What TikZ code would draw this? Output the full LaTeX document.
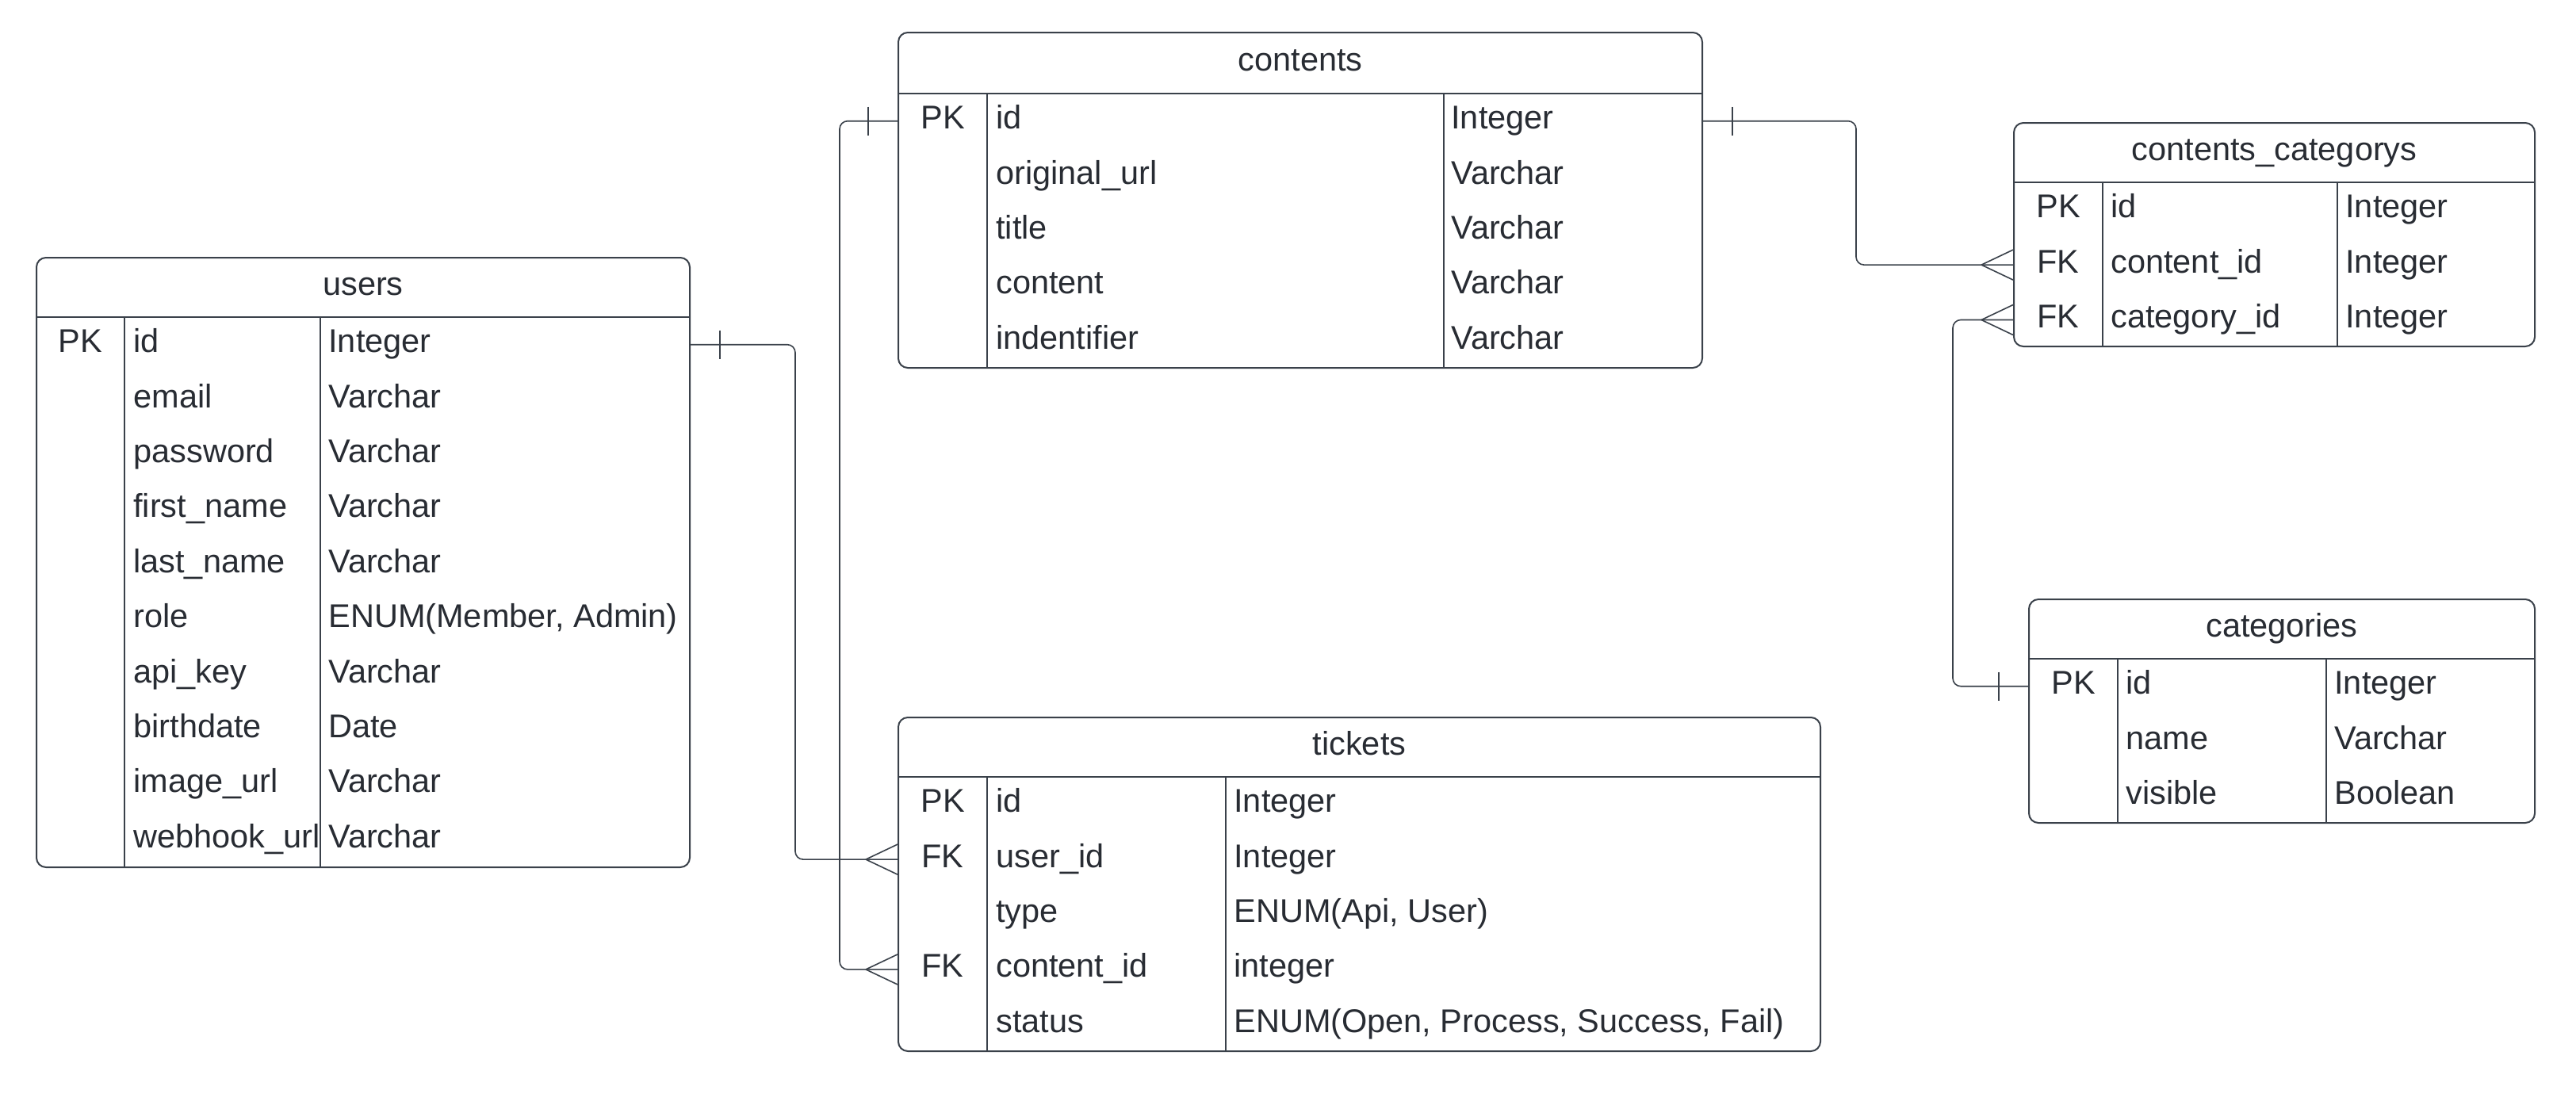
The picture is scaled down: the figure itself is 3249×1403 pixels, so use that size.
\documentclass[tikz,border=0pt]{standalone}
\usepackage{fontspec}
\setmainfont{Liberation Sans}
\usetikzlibrary{fit}
\definecolor{erdline}{HTML}{3A414A}
\definecolor{erdtext}{HTML}{282C33}

\begin{document}
\begin{tikzpicture}[
    x=0.5pt, y=-0.5pt,
    font=\fontsize{20.75}{24}\selectfont,
    entity/.style={draw=erdline, line width=1pt, rounded corners=6pt, inner sep=0pt},
    divider/.style={draw=erdline, line width=1pt},
    tabletitle/.style={text=erdtext, inner sep=0pt, text height=15pt, text depth=5pt},
    keytxt/.style={text=erdtext, inner sep=0pt, text height=15pt, text depth=5pt},
    fieldtxt/.style={text=erdtext, anchor=west, inner sep=0pt, text height=15pt, text depth=5pt},
    link/.style={draw=erdline, line width=0.8pt, rounded corners=5pt},
    crow/.pic={\draw[link] (-40,0) -- (0,-19) (-40,0) -- (0,19);},
    one/.pic={\draw[link] (0,-18) -- (0,18);}
]
    % Zeilenhoehe der Tabellen
    \def\rowh{69.4}
    \useasboundingbox[fill=white] (0,0) rectangle (3249,1403);

    % users
    \node[entity, fit={(46,325) (870,1094)}] (users) {};
    \node[tabletitle] (users-title) at (458,362.5) {users};
    \draw[divider] (46,400) -- (870,400);
    \draw[divider] (157,400) -- (157,1094) (404,400) -- (404,1094);
    \foreach \k/\f/\t [count=\i] in {PK/id/Integer, /email/Varchar, /password/Varchar,
        /first\_name/Varchar, /last\_name/Varchar, /role/{ENUM(Member, Admin)},
        /api\_key/Varchar, /birthdate/Date, /image\_url/Varchar, /webhook\_url/Varchar} {
        \node[keytxt] (users-k\i) at (101.5,400+\rowh*\i-\rowh/2) {\k};
        \node[fieldtxt] (users-f\i) at (168,400+\rowh*\i-\rowh/2) {\f};
        \node[fieldtxt] (users-t\i) at (414,400+\rowh*\i-\rowh/2) {\t};
    }

    % contents
    \node[entity, fit={(1133,41) (2147,464)}] (contents) {};
    \node[tabletitle] (contents-title) at (1640,79.5) {contents};
    \draw[divider] (1133,118) -- (2147,118);
    \draw[divider] (1245,118) -- (1245,464) (1821,118) -- (1821,464);
    \foreach \k/\f/\t [count=\i] in {PK/id/Integer, /original\_url/Varchar,
        /title/Varchar, /content/Varchar, /indentifier/Varchar} {
        \node[keytxt] (contents-k\i) at (1189,118+\rowh*\i-\rowh/2) {\k};
        \node[fieldtxt] (contents-f\i) at (1256,118+\rowh*\i-\rowh/2) {\f};
        \node[fieldtxt] (contents-t\i) at (1830,118+\rowh*\i-\rowh/2) {\t};
    }

    % tickets
    \node[entity, fit={(1133,905) (2296,1326)}] (tickets) {};
    \node[tabletitle] (tickets-title) at (1714.5,942.5) {tickets};
    \draw[divider] (1133,980) -- (2296,980);
    \draw[divider] (1245,980) -- (1245,1326) (1546,980) -- (1546,1326);
    \foreach \k/\f/\t [count=\i] in {PK/id/Integer, FK/user\_id/Integer,
        /type/{ENUM(Api, User)}, FK/content\_id/integer,
        /status/{ENUM(Open, Process, Success, Fail)}} {
        \node[keytxt] (tickets-k\i) at (1189,980+\rowh*\i-\rowh/2) {\k};
        \node[fieldtxt] (tickets-f\i) at (1256,980+\rowh*\i-\rowh/2) {\f};
        \node[fieldtxt] (tickets-t\i) at (1556,980+\rowh*\i-\rowh/2) {\t};
    }

    % contents_categorys
    \node[entity, fit={(2540,155) (3197,437)}] (cc) {};
    \node[tabletitle] (cc-title) at (2868.5,192.5) {contents\_categorys};
    \draw[divider] (2540,230) -- (3197,230);
    \draw[divider] (2652,230) -- (2652,437) (2948,230) -- (2948,437);
    \foreach \k/\f/\t [count=\i] in {PK/id/Integer, FK/content\_id/Integer,
        FK/category\_id/Integer} {
        \node[keytxt] (cc-k\i) at (2596,230+\rowh*\i-\rowh/2) {\k};
        \node[fieldtxt] (cc-f\i) at (2662,230+\rowh*\i-\rowh/2) {\f};
        \node[fieldtxt] (cc-t\i) at (2958,230+\rowh*\i-\rowh/2) {\t};
    }

    % categories
    \node[entity, fit={(2559,756) (3197,1038)}] (categories) {};
    \node[tabletitle] (categories-title) at (2878,793.5) {categories};
    \draw[divider] (2559,831) -- (3197,831);
    \draw[divider] (2671,831) -- (2671,1038) (2934,831) -- (2934,1038);
    \foreach \k/\f/\t [count=\i] in {PK/id/Integer, /name/Varchar, /visible/Boolean} {
        \node[keytxt] (categories-k\i) at (2615,831+\rowh*\i-\rowh/2) {\k};
        \node[fieldtxt] (categories-f\i) at (2681,831+\rowh*\i-\rowh/2) {\f};
        \node[fieldtxt] (categories-t\i) at (2944,831+\rowh*\i-\rowh/2) {\t};
    }

    % Beziehungen
    \draw[link] (users.east |- users-k1) -| (1003,700) |- (tickets.west |- tickets-k2);
    \path (users.east |- users-k1) ++(37,0) pic {one};
    \path (tickets.west |- tickets-k2) pic {crow};

    \draw[link] (contents.west |- contents-k1) -| (1059,600) |- (tickets.west |- tickets-k4);
    \path (contents.west |- contents-k1) ++(-37,0) pic {one};
    \path (tickets.west |- tickets-k4) pic {crow};

    \draw[link] (contents.east |- contents-k1) -| (2341,250) |- (cc.west |- cc-k2);
    \path (contents.east |- contents-k1) ++(37,0) pic {one};
    \path (cc.west |- cc-k2) pic {crow};

    \draw[link] (categories.west |- categories-k1) -| (2463,600) |- (cc.west |- cc-k3);
    \path (categories.west |- categories-k1) ++(-37,0) pic {one};
    \path (cc.west |- cc-k3) pic {crow};

\end{tikzpicture}
\end{document}
